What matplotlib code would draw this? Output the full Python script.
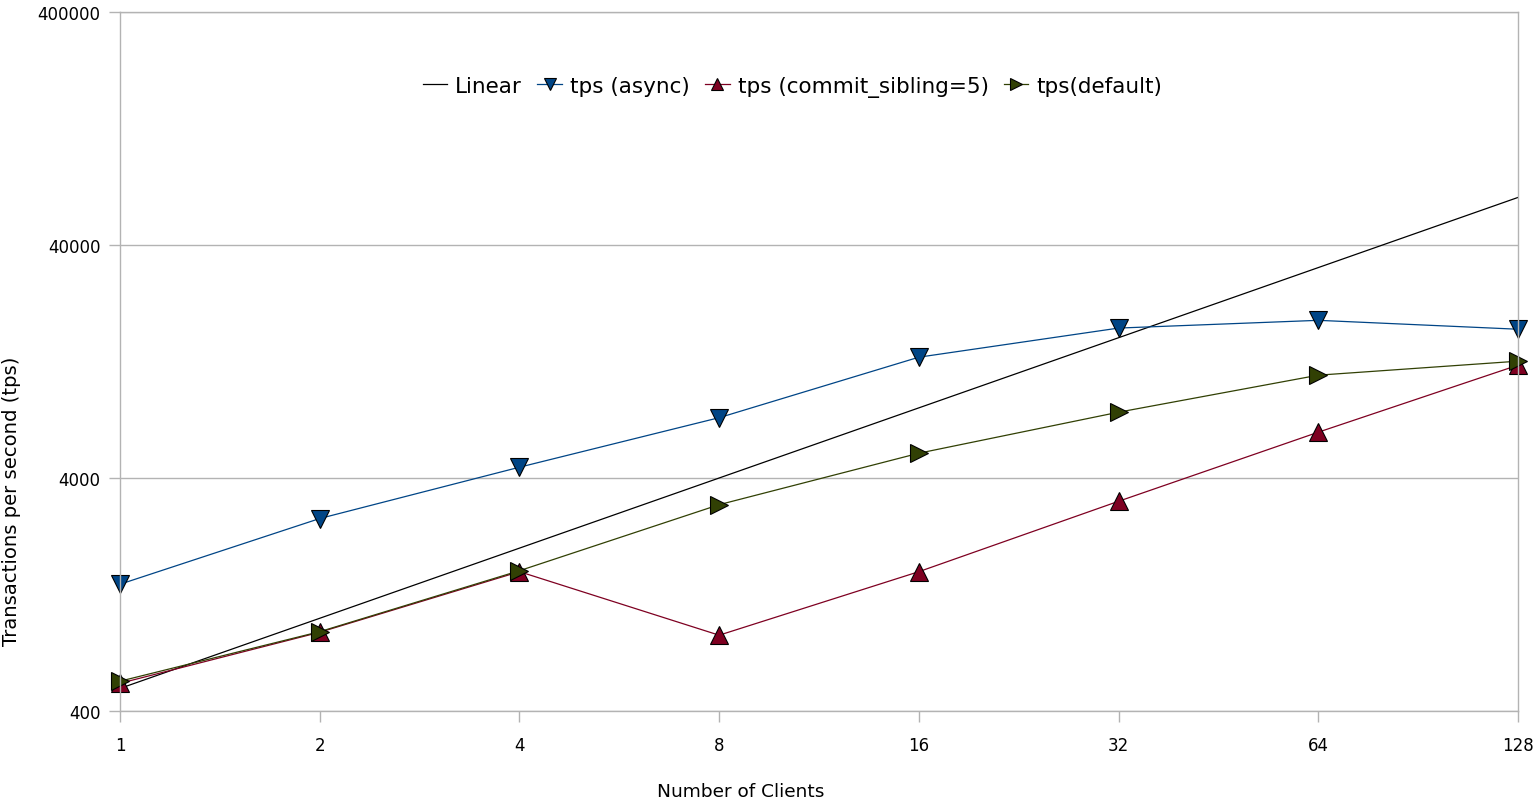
import matplotlib
matplotlib.use("Agg")
import matplotlib.pyplot as plt
from matplotlib.ticker import FixedLocator, NullLocator

plt.rcParams['font.family'] = ['DejaVu Sans']

# clients on the x axis, evenly spaced
clients = ["1", "2", "4", "8", "16", "32", "64", "128"]

# transactions per second
linear = [500, 1000, 2000, 4000, 8000, 16000, 32000, 64000]
tps_async = [1400, 2680, 4450, 7260, 13200, 17600, 19000, 17400]
tps_commit = [526, 871, 1585, 846, 1585, 3178, 6290, 12200]
tps_default = [537, 876, 1600, 3073, 5110, 7665, 11050, 12690]

xs = list(range(len(clients)))
grid_col = '#b3b3b3'

fig = plt.figure(figsize=(15.37, 8.04), dpi=100)
ax = fig.add_axes([120 / 1537, 1 - 712 / 804, 1398 / 1537, 699 / 804])

ax.plot(xs, linear, color='black', lw=0.9, label='Linear', clip_on=False)
ax.plot(xs, tps_async, color='#004586', lw=0.9, marker='v', ms=13.5,
        mfc='#004586', mec='black', mew=0.8, label='tps (async)', clip_on=False)
ax.plot(xs, tps_commit, color='#7e0021', lw=0.9, marker='^', ms=13.5,
        mfc='#7e0021', mec='black', mew=0.8, label='tps (commit_sibling=5)',
        clip_on=False)
ax.plot(xs, tps_default, color='#314004', lw=0.9, marker='>', ms=13.5,
        mfc='#314004', mec='black', mew=0.8, label='tps(default)', clip_on=False)

ax.set_yscale('log')
ax.set_ylim(400, 400000)
ax.set_xlim(0, len(clients) - 1)
ax.yaxis.set_major_locator(FixedLocator([400, 4000, 40000, 400000]))
ax.yaxis.set_minor_locator(NullLocator())
ax.set_yticklabels(['400', '4000', '40000', '400000'])
ax.set_xticks(xs)
ax.set_xticklabels(clients)

for s in ax.spines.values():
    s.set_color(grid_col)
    s.set_linewidth(1.0)
ax.grid(axis='y', color=grid_col, lw=1.0)
ax.set_axisbelow(True)
ax.tick_params(axis='both', color=grid_col, length=8, width=1.0,
               labelsize=12, labelcolor='black')
ax.tick_params(axis='x', pad=10)
ax.tick_params(axis='y', pad=6)

ax.set_xlabel('Number of Clients', fontsize=13.3)
ax.xaxis.set_label_coords(0.444, -0.101)
ax.set_ylabel('Transactions per second (tps)', fontsize=14.1)
ax.yaxis.set_label_coords(-0.071, 0.302)

ax.legend(loc='center', bbox_to_anchor=(0.481, 0.894), ncol=4, frameon=False,
          fontsize=15.5, handlelength=1.15, handletextpad=0.37,
          columnspacing=0.7, markerscale=0.65)

fig.savefig('out.png', dpi=100)
